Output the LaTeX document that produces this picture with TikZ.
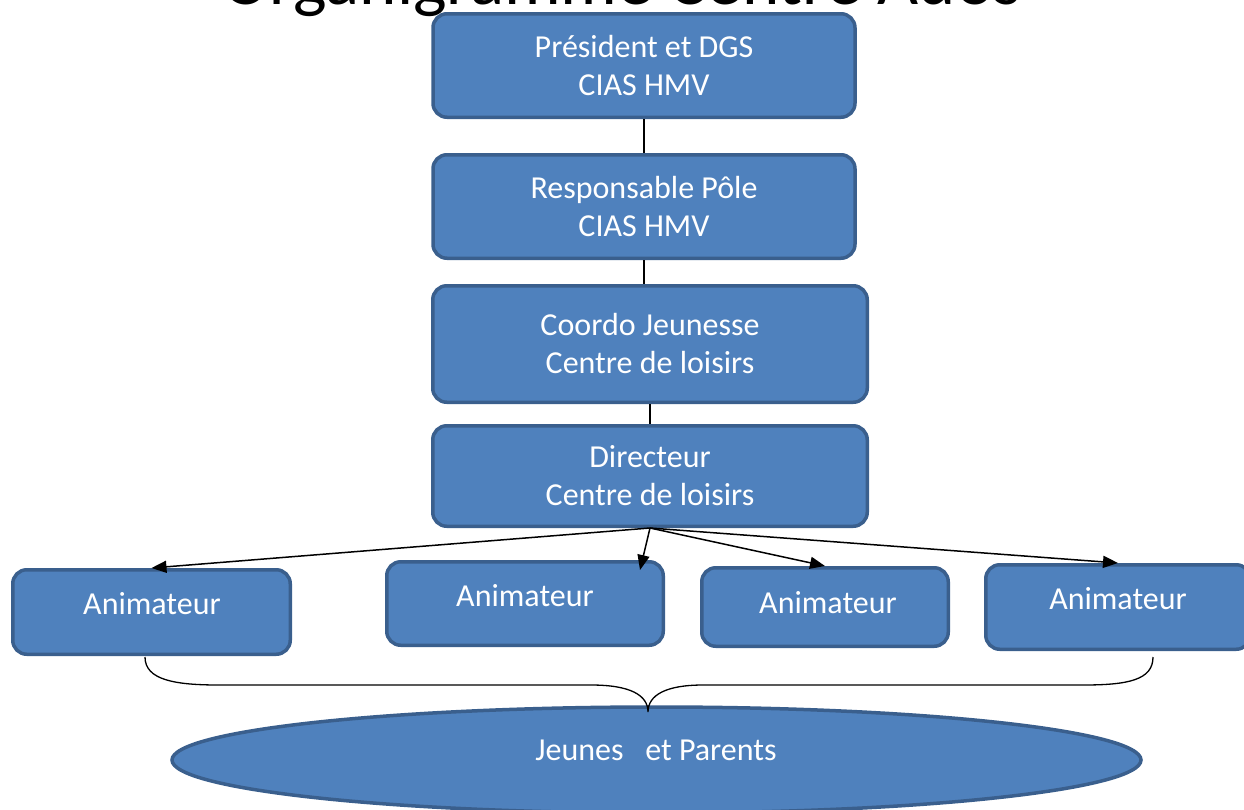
\documentclass[tikz,border=0pt]{standalone}
\usepackage{fontspec}
\setmainfont{Carlito}
\usetikzlibrary{arrows.meta,shapes.geometric}
\definecolor{boxfill}{HTML}{4F81BD}
\definecolor{boxedge}{HTML}{3A5F8D}
\begin{document}
\begin{tikzpicture}[x=1pt,y=-1pt,
  box/.style={draw=boxedge, fill=boxfill, line width=3.5pt, rounded corners=14pt,
    text=white, font=\fontsize{32}{38}\selectfont, align=center, inner sep=0pt},
  oval/.style={ellipse, draw=boxedge, fill=boxfill, line width=3.5pt, inner sep=0pt},
  lbl/.style={text=white, font=\fontsize{32}{38}\selectfont, inner sep=0pt},
  link/.style={line width=1.5pt},
  arr/.style={line width=1.5pt, -{Triangle[length=15pt,width=12pt]}},
  brace/.style={line width=1.3pt}]
\useasboundingbox (0,0) rectangle (1244,809);
\clip (0,0) rectangle (1244,809);

% title
\node[anchor=base, font=\fontsize{71}{80}\selectfont, inner sep=0pt] (title) at (622,4) {Organigramme Centre Ados};

% hierarchy
\node[box, minimum width=422pt, minimum height=103.5pt] (pres) at (644,65.5) {Président et DGS\\CIAS HMV};
\node[box, minimum width=422pt, minimum height=103.5pt] (resp) at (644,206.5) {Responsable Pôle\\CIAS HMV};
\node[box, minimum width=434.5pt, minimum height=116.5pt] (coord) at (650,344) {Coordo Jeunesse\\Centre de loisirs};
\node[box, minimum width=434.5pt, minimum height=100.5pt] (dir) at (650,476) {Directeur\\Centre de loisirs};

\draw[link] (pres.south) -- (resp.north);
\draw[link] (resp.south) -- (resp.south |- coord.north);
\draw[link] (coord.south) -- (coord.south |- dir.north);

% animators
\node[box, minimum width=277.5pt, minimum height=84.5pt] (a1) at (151.5,612) {};
\node[box, minimum width=276.5pt, minimum height=83.5pt] (a2) at (525,603.5) {};
\node[box, minimum width=246.5pt, minimum height=78.5pt] (a3) at (825,607) {};
\node[box, minimum width=264.5pt, minimum height=84.5pt] (a4) at (1118,607) {};
\node[lbl] (a1t) at (152,604) {Animateur};
\node[lbl] (a2t) at (525,596) {Animateur};
\node[lbl] (a3t) at (828,603) {Animateur};
\node[lbl] (a4t) at (1118,599) {Animateur};

\coordinate (t2) at (640,570);
\draw[arr] (dir.south) -- (a1.north);
\draw[arr] (dir.south) -- (t2);
\draw[arr] (dir.south) -- (a3.north);
\draw[arr] (dir.south) -- (a4.north);

% audience
\node[oval, minimum width=969pt, minimum height=106pt] (jp) at (656.5,760) {};
\node[lbl] (jpt) at (656,750) {Jeunes\ \ \ et Parents};

\coordinate (bl) at (145,657);
\coordinate (br) at (1153,657);
\coordinate (tip) at (648,712);
\draw[brace] (bl) .. controls (145,680) and (175,685) .. (219,685) -- (591,685)
  .. controls (630,685) and (648,695) .. (tip)
  .. controls (648,695) and (666,685) .. (703,685) -- (1083,685)
  .. controls (1128,685) and (1153,680) .. (br);
\end{tikzpicture}
\end{document}
